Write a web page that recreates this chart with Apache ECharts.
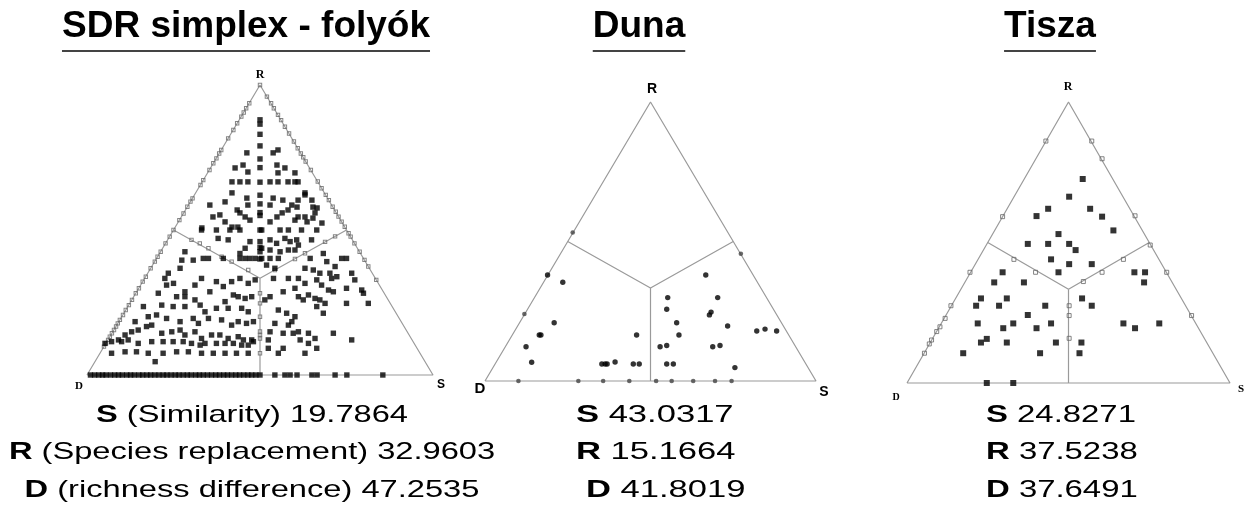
<!DOCTYPE html>
<html>
<head>
<meta charset="utf-8">
<script src="https://cdn.jsdelivr.net/npm/echarts@6/dist/echarts.min.js"></script>
<style>html,body{margin:0;padding:0;background:#fff}#c{width:1256px;height:516px}</style>
</head>
<body>
<div id="c"></div>
<script>
// ---- simplex geometry (data units: x = position along base 0..100, y = height 0..100) ----
const triangle = [[0,0],[100,0],[50,100],[0,0]];
const branchUpper = [[25,50],[50,33.33],[75,50]];
const branchLower = [[50,33.33],[50,0]];

// ---- titles and summary values ----
const titles = ['SDR simplex - folyók', 'Duna', 'Tisza'];
const vertexLabels = ['R', 'D', 'S'];
const summaryNames = ['(Similarity)', '(Species replacement)', '(richness difference)'];
const simplexSummary = ['19.7864', '32.9603', '47.2535'];
const dunaSummary = ['43.0317', '15.1664', '41.8019'];
const tiszaSummary = ['24.8271', '37.5238', '37.6491'];

// ---- SDR simplex - folyók ----
const simplexPoints = [
 [50,88],[50,86.5],[50,83],[50,79],[50,74.5],[50,71.5],[50,66.5],[50,62],[50,59],[50,56],[50,55],[50,50],[50,46],[50,44],[50,42.5],[50,40],
 [53.8,76.6],[55.2,77.6],[54.9,72.4],[57.2,71.4],[55.2,69.7],[60.1,69.7],[52.9,66.6],[55.2,66.6],[58.1,66.6],[60.1,66.6],[61,66.6],[63,62.8],
 [52.9,58.6],[53.8,61],[56.6,60.3],[59.2,58.6],[61,60.3],[63,62.1],[65,60.3],[65.3,57.9],[66.5,57.6],[65.9,55.9],[65.3,54.1],[67.9,52.4],
 [54.9,54.5],[56.4,55.9],[58.1,56.9],[60.7,57.9],[61,54.5],[63,54.5],[63.6,52.8],[52.9,52.8],[60.1,53.4],
 [46.2,76.6],[45.1,72.4],[46.5,70],[42.8,71.4],[41.9,66.6],[44.2,66.6],[46.5,66.6],[41.9,62.8],[46.2,61],[46.5,58.6],[35.5,58.6],[39.9,59.7],
 [43.4,56.9],[44.2,55.9],[45.7,54.5],[47.1,53.4],[36.4,54.5],[38.4,55.2],[39.9,52.8],[41.9,51],[43.6,51],[33.2,50.7],
 [50.5,50],[55.8,50],[58.2,50],[62,50],[66.4,50],[52.9,46.6],[54.8,45.4],[57.2,47.1],[58.7,46],[60.6,46.6],[64.9,46.6],[61.1,44.8],
 [50.5,43.7],[52.9,43.1],[55.8,42.5],[58.2,43.1],[60.1,43.1],[50.5,40.2],[52.9,40.2],[55.3,40.2],[51.9,37.9],[54.3,36.8],
 [64.5,40.2],[68.3,41.9],[69.3,39.1],[73.6,40.2],[75,40.2],[71.7,37.4],[63,36.8],[65.4,36.2],[67.3,35.1],[70.2,35.1],[70.7,33.3],[72.2,33.9],
 [76.5,35.1],[77.4,32.8],[53.9,33.3],[58.2,33.3],[61.1,33.3],[63,31.6],[66.4,32.8],[67.8,31],[69.8,29.3],[71.2,28.7],[75,29.9],[79.4,29.3],
 [79.9,28.2],[81.3,24.7],[56.7,28.7],[60.1,29.9],[61.1,27],[62.5,25.9],[64,27.6],[65.9,26.4],[67.3,25.9],[68.8,24.7],[66.4,23.6],[68.3,21.3],
 [75,24.7],[52.9,27],[51.4,25.9],[55.3,22.4],[57.7,21.3],[60.1,20.1],[59.2,18.4],[58.2,17.2],[54.3,17.8],[52.9,14.9],[52.4,12.1],[56.7,14.4],
 [59.6,14.4],[61.1,14.9],[64,14.4],[61.6,12.1],[65.9,12.6],[64,10.9],[71.2,14.4],[76.5,12.1],[52.4,9.2],[56.7,9.2],[63,7.5],[55.3,7.5],[66.4,9.2],
 [33.1,50],[37.4,50],[41.3,50],[44.2,50],[37.9,47.1],[40.8,46.6],[47.1,46],[45.7,43.7],[44.2,41.9],
 [28.3,42.5],[27.4,39.6],[26.9,36.8],[30.7,39.6],[33.6,40.2],[35.1,40.2],[39.4,40.2],[44.2,40.2],[45.7,40.2],[47.1,40.2],[48.6,40.2],
 [23.5,35.1],[22.5,33.3],[23,31],[25,31.6],[33.1,33.3],[31.2,31],[28.3,28.7],[37.4,32.2],[39.4,30.5],[41.8,32.2],[44.2,33.3],[46.6,31.6],[48.6,32.8],
 [20.6,28.2],[25.9,27],[28.3,27],[31.2,25.9],[35.5,28.7],[39.9,25.3],[42.3,27.6],[43.7,27],[45.7,26.4],[47.6,27],
 [16.3,23.6],[21.6,24.1],[24.9,23.6],[28.3,23.6],[32.7,24.1],[34.1,21.8],[37.4,23],[40.8,23],[44.7,23],[46.6,21.8],
 [13.9,18.4],[17.7,20.1],[20.1,20.7],[23,19.5],[26.9,18.4],[30.7,19.5],[32.2,17.8],[35.1,19.5],[38.9,19],[41.8,17.2],[43.7,18.4],[46.1,17.8],[48.1,18.4],
 [11,13.8],[12.9,14.9],[14.8,15.5],[17.2,16.7],[18.7,17.2],[21.6,14.4],[24.5,14.9],[26.9,15.5],[28.3,13.8],[31.2,14.9],[33.1,12.6],[36,13.8],
 [38.4,13.8],[40.8,12.6],[43.7,13.2],[45.2,12.1],[47.6,12.1],
 [5.2,10.9],[7.1,11.5],[9.1,12.1],[10,11.5],[11.9,12.1],[14.8,10.9],[18.7,11.5],[22,11.5],[24.9,11.5],[27.8,11.5],[30.2,10.9],[32.7,10.3],
 [34.1,10.9],[37.4,10.9],[39.9,10.9],[42.3,10.9],[44.7,10.3],[46.6,10.3],[48.1,11.5],
 [7.1,7.5],[11,8],[14.3,8],[17.7,7.5],[22,7.5],[25.9,8],[29.3,8],[33.1,7.5],[36.5,7.5],[39.9,7.5],[43.2,7.5],[46.6,7.5],[19.7,4.6]
];
const simplexBasePoints = [
 [1,0],[2.2,0],[3.4,0],[4.5,0],[5.5,0],[6.8,0],[8,0],[9.1,0],[10.2,0],[11.5,0],[12.6,0],[13.7,0],[15,0],[16.1,0],[17.3,0],[18.4,0],
 [19.6,0],[20.8,0],[22,0],[23.1,0],[24.3,0],[25.5,0],[26.6,0],[27.8,0],[29,0],[30.1,0],[31.4,0],[32.5,0],[33.6,0],[34.8,0],[36,0],
 [37.2,0],[38.3,0],[39.5,0],[40.6,0],[41.8,0],[43,0],[44.1,0],[45.3,0],[46.5,0],[47.6,0],[48.8,0],
 [50,0],[54.3,0],[57.2,0],[58.7,0],[60.7,0],[65,0],[66.5,0],[71.7,0],[75.1,0],[85.5,0]
];
const simplexEdgePoints = [
 [50,100],
 [46.9,93.7],[46,92],[45.3,90.5],[44.6,89.1],[43.4,86.8],[42.3,84.5],[40.8,81.6],[38.8,77.6],[38.2,76.4],[37.4,74.7],[36.5,73],[35.4,70.7],
 [33.6,67.2],[32.8,65.5],[30.5,60.9],[29.9,59.8],[29,58],[27.9,55.7],[26.7,53.4],[25,50],[23.9,47.7],[22.7,45.4],[21.3,42.5],[20.4,40.8],
 [19.6,39.1],[18.4,36.8],[17,33.9],[16.1,32.2],[15,29.9],[14.1,28.2],[13,25.9],[12.1,24.1],[11.2,22.4],[10.4,20.7],[9.5,19],[8.9,17.8],
 [8.4,16.7],[7.8,15.5],[7.2,14.4],[6.6,13.2],[6.1,12.1],[5.5,10.9],[4.9,9.8],
 [52,96],[53.2,93.7],[54,92],[55.2,89.7],[56.1,87.9],[57.2,85.6],[58.4,83.3],[59.8,80.5],[60.9,78.2],[61.8,76.4],[62.5,75.1],[63.2,73.6],
 [64.7,70.7],[66.7,66.7],[67.8,64.4],[69,62.1],[69.9,60.3],[71,58],[71.9,56.3],[72.7,54.6],[73.6,52.9],[74.5,51.1],[75.6,48.9],[76.2,47.7],
 [77.3,45.4],[78.8,42.5],[80.2,39.7],[81.3,37.4],[83.6,32.8],
 [30.2,46.6],[32.6,45.4],[35.1,43.7],[38.9,40.8],[41.8,39.1],[46.6,36.2],
 [54.3,36.2],[60.1,40],[63,42],[68.8,45.9],[71.7,47.8],
 [50,28.2],[50,24.7],[50,20.1],[50,15],[50,13.8],[50,12.6],[50,7.5]
];

// ---- Duna ----
const dunaPoints = [
 [18.9,38],[23.5,35.4],[66.7,38],[55.2,29.9],[70.3,29.9],[54.9,25.7],[68.3,24.7],[67.8,23.7],[20.9,20.9],[57.9,20.9],[73.3,19.7],
 [82.1,17.9],[84.6,18.6],[88.1,17.9],[16.4,16.5],[16.9,16.5],[45.8,16.5],[58.6,16.5],[12.4,12.3],[52.9,12.3],[54.9,12.7],[68.8,12.3],
 [71,12.7],[14.1,6.7],[35.3,6.1],[36.3,6.1],[36.9,6.1],[39.3,6.8],[44.8,6.1],[46.6,6.1],[54.9,6.1],[56.9,6.1],[75.5,4.8]
];
const dunaEdgePoints = [
 [26.5,53.2],[77.3,45.6],[11.9,24],[10.1,0],[28.2,0],[35.7,0],[43.6,0],[51.7,0],[56.4,0],[62.9,0],[69.5,0],[74.5,0]
];

// ---- Tisza ----
const tiszaPoints = [
 [54.4,72.6],[50.2,66.3],[43.7,62],[40.1,59.4],[56.7,62],[60.4,59.2],[63.9,54.3],[46.9,53],[37.4,49.5],[43.7,49.5],[50.2,49.5],[52.2,47.3],
 [44.6,44],[50.2,42.3],[57.2,42.3],[46.9,39.4],[29.6,39.4],[27,35.8],[36.2,35.8],[70.4,39.4],[73.7,39.4],[73.4,35.8],[22.9,30.1],[30.9,30.1],
 [21.4,27.5],[28.5,27.5],[42.8,27.5],[54.2,30.1],[57.2,27.5],[37.4,24.2],[21.9,21.2],[29.8,19.5],[32.9,21.2],[40.1,19.5],[44.6,21.2],
 [67,21.2],[70.6,19.5],[78.1,21.2],[22.9,14.4],[24.7,15.7],[30.9,14.4],[46.1,14.4],[54,14.4],[17.4,10.6],[41.2,10.6],[53.4,10.6],
 [24.7,0],[32.9,0]
];
const tiszaEdgePoints = [
 [43,86.1],[29.6,59.2],[19.5,39.4],[13.6,27.5],[11.8,23],[10.2,20],[9.2,18.3],[7.6,15.3],[6.9,13.9],[5.4,10.6],
 [57.2,86.1],[60.4,79.8],[70.6,59.5],[80.4,39.4],[88.1,24],[75.3,49.1],
 [33.1,44],[39.8,39.4],[54.6,36.1],[60.4,39.4],[67,44],[50.2,27.5],[50.2,24],[50.2,15.9]
];

// ---------------------------------------------------------------
const SANS = '"Liberation Sans", Arial, sans-serif';
const SERIF = '"Liberation Serif", "Times New Roman", serif';
const LINE = '#9a9a9a';
const hollow = {color:'rgba(255,255,255,0)', borderColor:'#666', borderWidth:1};

const panels = [
  {grid:{left:87, top:85, width:346, height:290}, solid:[simplexPoints, simplexBasePoints], edge:simplexEdgePoints, sym:'rect', size:5.4, edgeStyle:hollow, edgeSym:'rect', edgeSize:3.4},
  {grid:{left:485, top:102, width:331, height:279}, solid:[dunaPoints], edge:dunaEdgePoints, sym:'circle', size:5.4, edgeStyle:{color:'#444'}, edgeSym:'circle', edgeSize:4.6},
  {grid:{left:907, top:102, width:323, height:281}, solid:[tiszaPoints], edge:tiszaEdgePoints, sym:'rect', size:6, edgeStyle:hollow, edgeSym:'rect', edgeSize:4}
];

const grids = [], xAxes = [], yAxes = [], series = [];
panels.forEach((p, i) => {
  grids.push(Object.assign({containLabel:false}, p.grid));
  xAxes.push({type:'value', gridIndex:i, min:0, max:100, show:false});
  yAxes.push({type:'value', gridIndex:i, min:0, max:100, show:false});
  const ls = {color:LINE, width:1.2};
  [triangle, branchUpper, branchLower].forEach(d => series.push({
    type:'line', xAxisIndex:i, yAxisIndex:i, data:d, symbol:'none', lineStyle:ls, z:1, silent:true, clip:false
  }));
  series.push({type:'scatter', xAxisIndex:i, yAxisIndex:i, data:p.edge, symbol:p.edgeSym, symbolSize:p.edgeSize,
    itemStyle:p.edgeStyle, z:2, clip:false});
  p.solid.forEach(d => series.push({type:'scatter', xAxisIndex:i, yAxisIndex:i, data:d, symbol:p.sym, symbolSize:p.size,
    itemStyle:{color:'#000'}, z:3, clip:false}));
});

// ---- text via graphic ----
const measure = document.createElement('canvas').getContext('2d');
const graphic = [];
const TFONT = 'bold 37px ' + SANS;
measure.font = TFONT;
[[titles[0],246],[titles[1],639],[titles[2],1050]].forEach(([t,cx]) => {
  const w = measure.measureText(t).width;
  graphic.push({type:'text', x:cx, y:27, style:{text:t, font:TFONT, fill:'#000', textAlign:'center', textVerticalAlign:'middle', align:'center', verticalAlign:'middle'}});
  graphic.push({type:'line', shape:{x1:cx-w/2, y1:51, x2:cx+w/2, y2:51}, style:{stroke:'#444', lineWidth:2}});
});

function label(x, y, t, font) {
  graphic.push({type:'text', x, y, style:{text:t, font, fill:'#000', textAlign:'center', textVerticalAlign:'middle', align:'center', verticalAlign:'middle'}});
}
// vertex labels
label(260, 75, vertexLabels[0], 'bold 12px ' + SERIF);
label(79, 386, vertexLabels[1], 'bold 11px ' + SERIF);
label(441, 385, vertexLabels[2], 'bold 12px ' + SANS);
label(652, 89, vertexLabels[0], 'bold 14px ' + SANS);
label(480, 389, vertexLabels[1], 'bold 15px ' + SANS);
label(824, 392, vertexLabels[2], 'bold 14px ' + SANS);
label(1068, 87, vertexLabels[0], 'bold 12px ' + SERIF);
label(896, 397, vertexLabels[1], 'bold 10px ' + SERIF);
label(1241, 389, vertexLabels[2], 'bold 11px ' + SERIF);

const FS = 24;
const rich = {b:{fontWeight:'bold', fontSize:FS, fontFamily:SANS, fill:'#000'}, n:{fontSize:FS, fontFamily:SANS, fill:'#000'}};
function summary(x, y, letter, rest, align, sx) {
  graphic.push({type:'group', x, y, scaleX:sx, children:[{type:'text', x:0, y:0, style:{
    text:'{b|' + letter + '}{n| ' + rest + '}', rich, font:FS + 'px ' + SANS, fill:'#000',
    textAlign:align, textVerticalAlign:'middle', align, verticalAlign:'middle'}}]});
}
const rowsY = [415, 452, 490];
const letters = ['S', 'R', 'D'];
letters.forEach((L, k) => {
  summary(252, rowsY[k], L, summaryNames[k] + ' ' + simplexSummary[k], 'center', 1.36);
  summary([576, 576, 586][k], rowsY[k], L, dunaSummary[k], 'left', 1.44);
  summary(986, rowsY[k], L, tiszaSummary[k], 'left', 1.37);
});

const chart = echarts.init(document.getElementById('c'), null, {renderer:'canvas'});
chart.setOption({animation:false, backgroundColor:'#fff', grid:grids, xAxis:xAxes, yAxis:yAxes, series, graphic});
</script>
</body>
</html>
